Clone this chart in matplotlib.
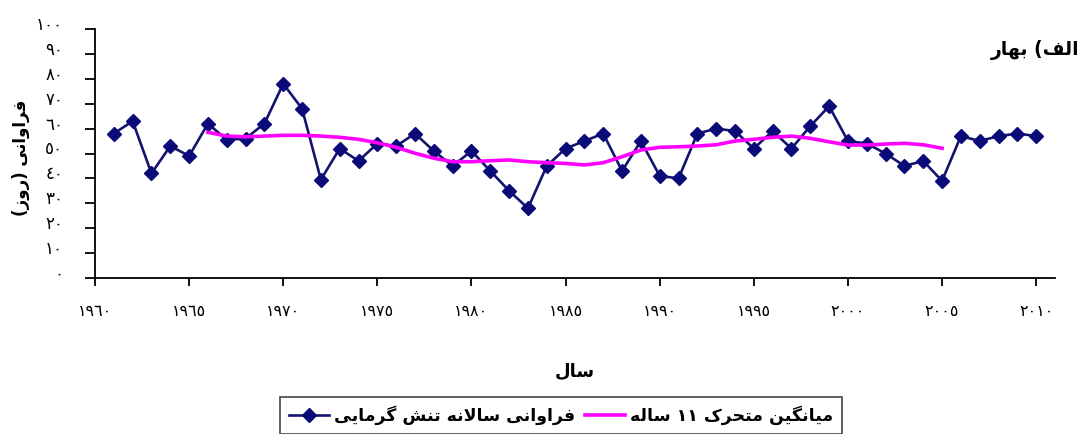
import re
import matplotlib
matplotlib.use("Agg")
import matplotlib.pyplot as plt
import matplotlib.transforms as mtransforms

# --- data ---
years = list(range(1961, 2011))
freq = [58, 63, 42, 53, 49, 62, 55.5, 56, 62, 78,
        68, 39.5, 52, 47, 54, 53, 58, 51, 45, 51,
        43, 35, 28, 45, 52, 55, 58, 43, 55, 41,
        40, 58, 60, 59, 52, 59, 52, 61, 69, 55,
        54, 50, 45, 47, 39, 57, 55, 57, 58, 57]
ma_years = list(range(1966, 2006))
ma11 = [58.5, 57.0, 56.7, 57.0, 57.3, 57.3, 57.0, 56.5, 55.7, 54.3,
        52.5, 50.1, 48.1, 46.7, 46.7, 47.1, 47.4, 46.7, 46.3, 46.0,
        45.4, 46.3, 48.7, 51.4, 52.5, 52.7, 53.0, 53.5, 55.0, 55.7,
        56.5, 57.0, 56.1, 54.7, 53.4, 53.4, 53.8, 54.1, 53.5, 52.1]
xticks = list(range(1960, 2011, 5))
yticks = list(range(0, 101, 10))

title_txt = "الف) بهار"
ylabel_txt = "فراوانی (روز)"
xlabel_txt = "سال"
series_txt = "فراوانی سالانه تنش گرمایی"
ma_txt = "میانگین متحرک ۱۱ ساله"

# --- minimal arabic shaping (matplotlib has no bidi / joining) ---
FORMS = {
    'ا': ('\uFE8D', '\uFE8E', None, None),
    'ب': ('\uFE8F', '\uFE90', '\uFE91', '\uFE92'),
    'ت': ('\uFE95', '\uFE96', '\uFE97', '\uFE98'),
    'ح': ('\uFEA1', '\uFEA2', '\uFEA3', '\uFEA4'),
    'ر': ('\uFEAD', '\uFEAE', None, None),
    'ز': ('\uFEAF', '\uFEB0', None, None),
    'س': ('\uFEB1', '\uFEB2', '\uFEB3', '\uFEB4'),
    'ش': ('\uFEB5', '\uFEB6', '\uFEB7', '\uFEB8'),
    'ف': ('\uFED1', '\uFED2', '\uFED3', '\uFED4'),
    'ل': ('\uFEDD', '\uFEDE', '\uFEDF', '\uFEE0'),
    'م': ('\uFEE1', '\uFEE2', '\uFEE3', '\uFEE4'),
    'ن': ('\uFEE5', '\uFEE6', '\uFEE7', '\uFEE8'),
    'ه': ('\uFEE9', '\uFEEA', '\uFEEB', '\uFEEC'),
    'و': ('\uFEED', '\uFEEE', None, None),
    'ی': ('\uFBFC', '\uFBFD', '\uFBFE', '\uFBFF'),
    'گ': ('\uFB92', '\uFB93', '\uFB94', '\uFB95'),
    'ک': ('\uFB8E', '\uFB8F', '\uFB90', '\uFB91'),
}


def dual(ch):
    return ch in FORMS and FORMS[ch][2] is not None


def shape(text):
    out = []
    i = 0
    while i < len(text):
        c = text[i]
        if c not in FORMS:
            out.append(c)
            i += 1
            continue
        link_prev = i > 0 and dual(text[i - 1])
        if c == 'ل' and i + 1 < len(text) and text[i + 1] == 'ا':
            out.append('\uFEFC' if link_prev else '\uFEFB')
            i += 2
            continue
        link_next = dual(c) and i + 1 < len(text) and text[i + 1] in FORMS
        iso, fin, ini, med = FORMS[c]
        if link_prev and link_next:
            out.append(med)
        elif link_prev:
            out.append(fin)
        elif link_next:
            out.append(ini)
        else:
            out.append(iso)
        i += 1
    return ''.join(out)


def rtl(text):
    toks = re.findall(r'[0-9\u0660-\u0669\u06F0-\u06F9]+|.', shape(text))
    return ''.join({'(': ')', ')': '('}.get(t, t) for t in toks[::-1])


DIG = str.maketrans('0123456789', '٠١٢٣٤٥٦٧٨٩')


def fa(n):
    return str(n).translate(DIG)


plt.rcParams['font.family'] = ['DejaVu Sans']

fig = plt.figure(figsize=(10.82, 4.34), dpi=100)
ax = fig.add_axes([95 / 1082, 1 - 278 / 434, 960 / 1082, 249 / 434])

ax.plot(years, freq, color='#14146e', lw=1.9, marker='D', ms=7.5,
        mfc='#0a0a78', mec='#0a0a78', label=rtl(series_txt), zorder=3)
ax.plot(ma_years, ma11, color='#ff00ff', lw=2.6, label=rtl(ma_txt), zorder=4)

ax.set_xlim(1960, 2011)
ax.set_ylim(0, 100)
ax.set_xticks(xticks)
ax.set_xticklabels([fa(v) for v in xticks], fontsize=11.5)
ax.set_yticks(yticks)
ax.set_yticklabels([fa(v) for v in yticks], fontsize=12)
ax.tick_params(axis='y', direction='out', length=7, width=1.3, pad=16)
ax.tick_params(axis='x', direction='out', length=6, width=1.3, pad=13)
for s in ['top', 'right']:
    ax.spines[s].set_visible(False)
for s in ['left', 'bottom']:
    ax.spines[s].set_linewidth(1.3)

shift = mtransforms.ScaledTranslation(0, 6 / 100, fig.dpi_scale_trans)
for lab in ax.get_yticklabels():
    lab.set_transform(lab.get_transform() + shift)

fig.text(1079 / 1082, 1 - 50 / 434, rtl(title_txt), ha='right', va='center',
         fontsize=13.5, fontweight='bold')
fig.text(21 / 1082, 1 - 158 / 434, rtl(ylabel_txt), ha='center', va='center',
         rotation=90, fontsize=12, fontweight='bold')
fig.text(575 / 1082, 1 - 371 / 434, rtl(xlabel_txt), ha='center', va='center',
         fontsize=13, fontweight='bold')

leg = ax.legend(loc='upper left', bbox_to_anchor=(280 / 1082, 1 - 397 / 434),
                bbox_transform=fig.transFigure, ncol=2, fancybox=False,
                frameon=True, edgecolor='#555555', framealpha=1,
                prop={'size': 12.5, 'weight': 'bold'}, handlelength=2.3,
                handletextpad=0.3, columnspacing=0.6, borderpad=0.5,
                borderaxespad=0)
leg.get_frame().set_linewidth(1.3)

fig.savefig('out.png', dpi=100)
